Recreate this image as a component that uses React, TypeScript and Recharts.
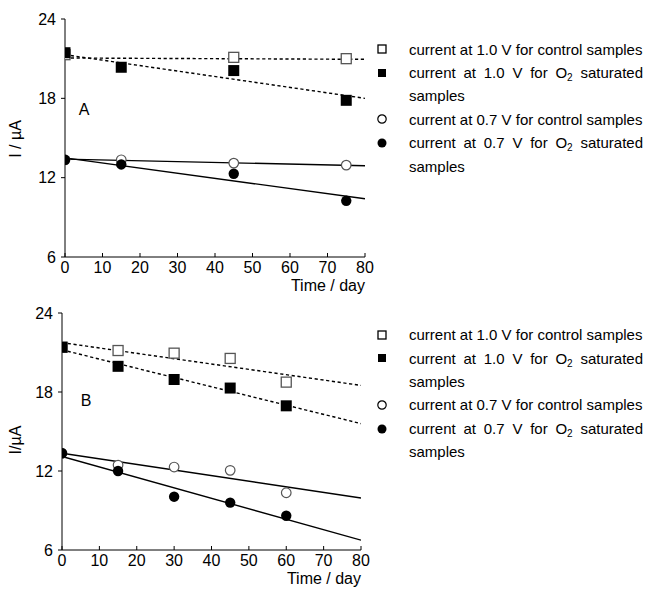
import React from 'react';
import { ComposedChart, Line, Scatter, XAxis, YAxis } from 'recharts';

const FONT = '"Liberation Sans", Arial, Helvetica, sans-serif';

// ---------- Panel A ----------
const A_DAYS = [0, 15, 45, 75];
const A_CTRL_10V = [21.3, null, 21.1, 21.0];
const A_O2_10V = [21.45, 20.35, 20.1, 17.85];
const A_CTRL_07V = [13.35, 13.35, 13.1, 12.95];
const A_O2_07V = [13.35, 13.0, 12.3, 10.25];
const A_FIT_DAYS = [0, 80];
const A_FIT_CTRL_10V = [21.05, 20.95];
const A_FIT_O2_10V = [21.3, 18.0];
const A_FIT_CTRL_07V = [13.4, 12.9];
const A_FIT_O2_07V = [13.5, 10.4];

// ---------- Panel B ----------
const B_DAYS = [0, 15, 30, 45, 60];
const B_CTRL_10V = [21.4, 21.15, 20.95, 20.55, 18.75];
const B_O2_10V = [21.4, 19.95, 18.95, 18.3, 16.95];
const B_CTRL_07V = [13.35, 12.45, 12.3, 12.05, 10.35];
const B_O2_07V = [13.35, 12.0, 10.05, 9.6, 8.6];
const B_FIT_DAYS = [0, 80];
const B_FIT_CTRL_10V = [21.75, 18.5];
const B_FIT_O2_10V = [21.2, 15.6];
const B_FIT_CTRL_07V = [13.35, 9.95];
const B_FIT_O2_07V = [13.1, 6.75];

// ---------- Axes / labels ----------
const X_TICKS = [0, 10, 20, 30, 40, 50, 60, 70, 80];
const Y_TICKS = [6, 12, 18, 24];
const X_DOMAIN = [0, 80];
const Y_DOMAIN = [6, 24];
const X_TITLE = 'Time / day';
const Y_TITLE_A = 'I / µA';
const Y_TITLE_B = 'I/µA';

// legend: each entry = marker + lines; a line is a list of [text, isSubscript]
const LEGEND = [
  { key: 'ctrl10', marker: 'openSquare', lines: [[['current at 1.0 V for control samples', false]]] },
  {
    key: 'o210',
    marker: 'filledSquare',
    lines: [[['current at 1.0 V for O', false], ['2', true], [' saturated', false]], [['samples', false]]],
  },
  { key: 'ctrl07', marker: 'openCircle', lines: [[['current at 0.7 V for control samples', false]]] },
  {
    key: 'o207',
    marker: 'filledCircle',
    lines: [[['current at 0.7 V for O', false], ['2', true], [' saturated', false]], [['samples', false]]],
  },
];

const pts = (xs: number[], ys: (number | null)[]) =>
  xs.map((x, i) => ({ x, y: ys[i] })).filter((p) => p.y !== null && p.y !== undefined);

const OpenSquare = (p: any) => (
  <rect x={p.cx - 5} y={p.cy - 5} width={10} height={10} fill="#fff" stroke="#555" strokeWidth={1.3} />
);
const FilledSquare = (p: any) => (
  <rect x={p.cx - 5.5} y={p.cy - 5.5} width={11} height={11} fill="#000" stroke="none" />
);
const OpenCircle = (p: any) => (
  <circle cx={p.cx} cy={p.cy} r={4.8} fill="#fff" stroke="#555" strokeWidth={1.2} />
);
const FilledCircle = (p: any) => <circle cx={p.cx} cy={p.cy} r={5.2} fill="#000" />;

const FS = 16;
const tickStyle = { fill: '#000', fontSize: FS, fontFamily: FONT };
const black = { stroke: '#000', strokeWidth: 1 };

type PanelProps = {
  days: number[];
  ctrl10: (number | null)[];
  o210: (number | null)[];
  ctrl07: (number | null)[];
  o207: (number | null)[];
  fitDays: number[];
  fits: number[][];
  margin: { top: number; right: number; bottom: number; left: number };
  yTitle: string;
  yTitleY: number;
  letter: string;
  letterPos: [number, number];
  xTitleY: number;
};

function Panel(props: PanelProps) {
  const { days, ctrl10, o210, ctrl07, o207, fitDays, fits, margin, yTitle, yTitleY, letter, letterPos, xTitleY } = props;
  const dashes = ['3.2 2.6', '3.2 2.6', undefined, undefined];
  const plotRight = 653 - margin.right;
  return (
    <ComposedChart width={653} height={295} margin={margin}>
      <XAxis
        type="number"
        dataKey="x"
        domain={X_DOMAIN}
        ticks={X_TICKS}
        interval={0}
        allowDataOverflow
        height={30}
        tickSize={-4}
        tickMargin={9}
        axisLine={black}
        tickLine={black}
        tick={tickStyle}
        label={{
          content: () => (
            <text x={plotRight} y={xTitleY} textAnchor="end" fill="#000" fontSize={FS} fontFamily={FONT}>
              {X_TITLE}
            </text>
          ),
        }}
      />
      <XAxis
        xAxisId="top"
        orientation="top"
        type="number"
        domain={X_DOMAIN}
        ticks={X_TICKS}
        interval={0}
        allowDataOverflow
        height={0}
        tickSize={-5}
        axisLine={black}
        tickLine={black}
        tickFormatter={() => ''}
      />
      <YAxis
        type="number"
        dataKey="y"
        domain={Y_DOMAIN}
        ticks={Y_TICKS}
        interval={0}
        allowDataOverflow
        width={30}
        tickSize={4}
        tickMargin={5}
        axisLine={black}
        tickLine={black}
        tick={tickStyle}
        label={{
          content: () => (
            <g>
              <text
                x={21}
                y={yTitleY}
                transform={`rotate(-90 21 ${yTitleY})`}
                textAnchor="middle"
                fill="#000"
                fontSize={FS}
                fontFamily={FONT}
              >
                {yTitle}
              </text>
              <text
                x={letterPos[0]}
                y={letterPos[1]}
                textAnchor="middle"
                dominantBaseline="central"
                fill="#000"
                fontSize={FS}
                fontFamily={FONT}
              >
                {letter}
              </text>
            </g>
          ),
        }}
      />
      <YAxis
        yAxisId="right"
        orientation="right"
        type="number"
        domain={Y_DOMAIN}
        ticks={Y_TICKS}
        interval={0}
        allowDataOverflow
        width={0}
        tickSize={-4}
        axisLine={black}
        tickLine={black}
        tickFormatter={() => ''}
      />
      {fits.map((f, i) => (
        <Line
          key={'fit' + i}
          data={pts(fitDays, f)}
          dataKey="y"
          type="linear"
          stroke="#000"
          strokeWidth={1.4}
          strokeDasharray={dashes[i]}
          dot={false}
          activeDot={false}
          isAnimationActive={false}
        />
      ))}
      <Scatter data={pts(days, ctrl10)} dataKey="y" shape={OpenSquare} isAnimationActive={false} />
      <Scatter data={pts(days, o210)} dataKey="y" shape={FilledSquare} isAnimationActive={false} />
      <Scatter data={pts(days, ctrl07)} dataKey="y" shape={OpenCircle} isAnimationActive={false} />
      <Scatter data={pts(days, o207)} dataKey="y" shape={FilledCircle} isAnimationActive={false} />
    </ComposedChart>
  );
}

function LegendMarker({ kind }: { kind: string }) {
  return (
    <svg width={12} height={12} style={{ display: 'block' }}>
      {kind === 'openSquare' && <rect x={2} y={2} width={8} height={8} fill="#fff" stroke="#000" strokeWidth={1.3} />}
      {kind === 'filledSquare' && <rect x={2} y={2} width={8} height={8} fill="#000" />}
      {kind === 'openCircle' && <circle cx={6} cy={6} r={4.2} fill="#fff" stroke="#000" strokeWidth={1.2} />}
      {kind === 'filledCircle' && <circle cx={6} cy={6} r={4.5} fill="#000" />}
    </svg>
  );
}

function LegendBox({ top }: { top: number }) {
  return (
    <div style={{ position: 'absolute', left: 376, top, fontFamily: FONT, fontSize: 15, color: '#000' }}>
      {LEGEND.map((e) => (
        <div key={e.key} style={{ display: 'flex', alignItems: 'flex-start' }}>
          <div style={{ width: 12, height: 23.4, display: 'flex', alignItems: 'center' }}>
            <LegendMarker kind={e.marker} />
          </div>
          <div style={{ marginLeft: 21, width: 234 }}>
            {e.lines.map((line, li) => (
              <div
                key={li}
                style={{
                  height: 23.4,
                  lineHeight: '23.4px',
                  whiteSpace: 'nowrap',
                  textAlign: e.lines.length > 1 && li === 0 ? 'justify' : 'left',
                  textAlignLast: e.lines.length > 1 && li === 0 ? 'justify' : 'left',
                  whiteSpaceCollapse: 'preserve',
                } as any}
              >
                {line.map((seg, si) =>
                  seg[1] ? (
                    <span key={si} style={{ fontSize: 10, position: 'relative', top: 3, lineHeight: '10px' }}>
                      {seg[0] as string}
                    </span>
                  ) : (
                    <span key={si}>{seg[0] as string}</span>
                  )
                )}
              </div>
            ))}
          </div>
        </div>
      ))}
    </div>
  );
}

export default function App() {
  return (
    <div style={{ position: 'absolute', left: 0, top: 0, width: 653, height: 590, background: '#fff' }}>
      <div style={{ position: 'absolute', left: 0, top: 0 }}>
        <Panel
          days={A_DAYS}
          ctrl10={A_CTRL_10V}
          o210={A_O2_10V}
          ctrl07={A_CTRL_07V}
          o207={A_O2_07V}
          fitDays={A_FIT_DAYS}
          fits={[A_FIT_CTRL_10V, A_FIT_O2_10V, A_FIT_CTRL_07V, A_FIT_O2_07V]}
          margin={{ top: 19, right: 288, bottom: 8, left: 35 }}
          yTitle={Y_TITLE_A}
          yTitleY={139}
          letter="A"
          letterPos={[84, 109]}
          xTitleY={291}
        />
      </div>
      <div style={{ position: 'absolute', left: 0, top: 295 }}>
        <Panel
          days={B_DAYS}
          ctrl10={B_CTRL_10V}
          o210={B_O2_10V}
          ctrl07={B_CTRL_07V}
          o207={B_O2_07V}
          fitDays={B_FIT_DAYS}
          fits={[B_FIT_CTRL_10V, B_FIT_O2_10V, B_FIT_CTRL_07V, B_FIT_O2_07V]}
          margin={{ top: 18, right: 292, bottom: 10, left: 32 }}
          yTitle={Y_TITLE_B}
          yTitleY={145}
          letter="B"
          letterPos={[86, 105]}
          xTitleY={289}
        />
      </div>
      <LegendBox top={37.6} />
      <LegendBox top={323.3} />
    </div>
  );
}
